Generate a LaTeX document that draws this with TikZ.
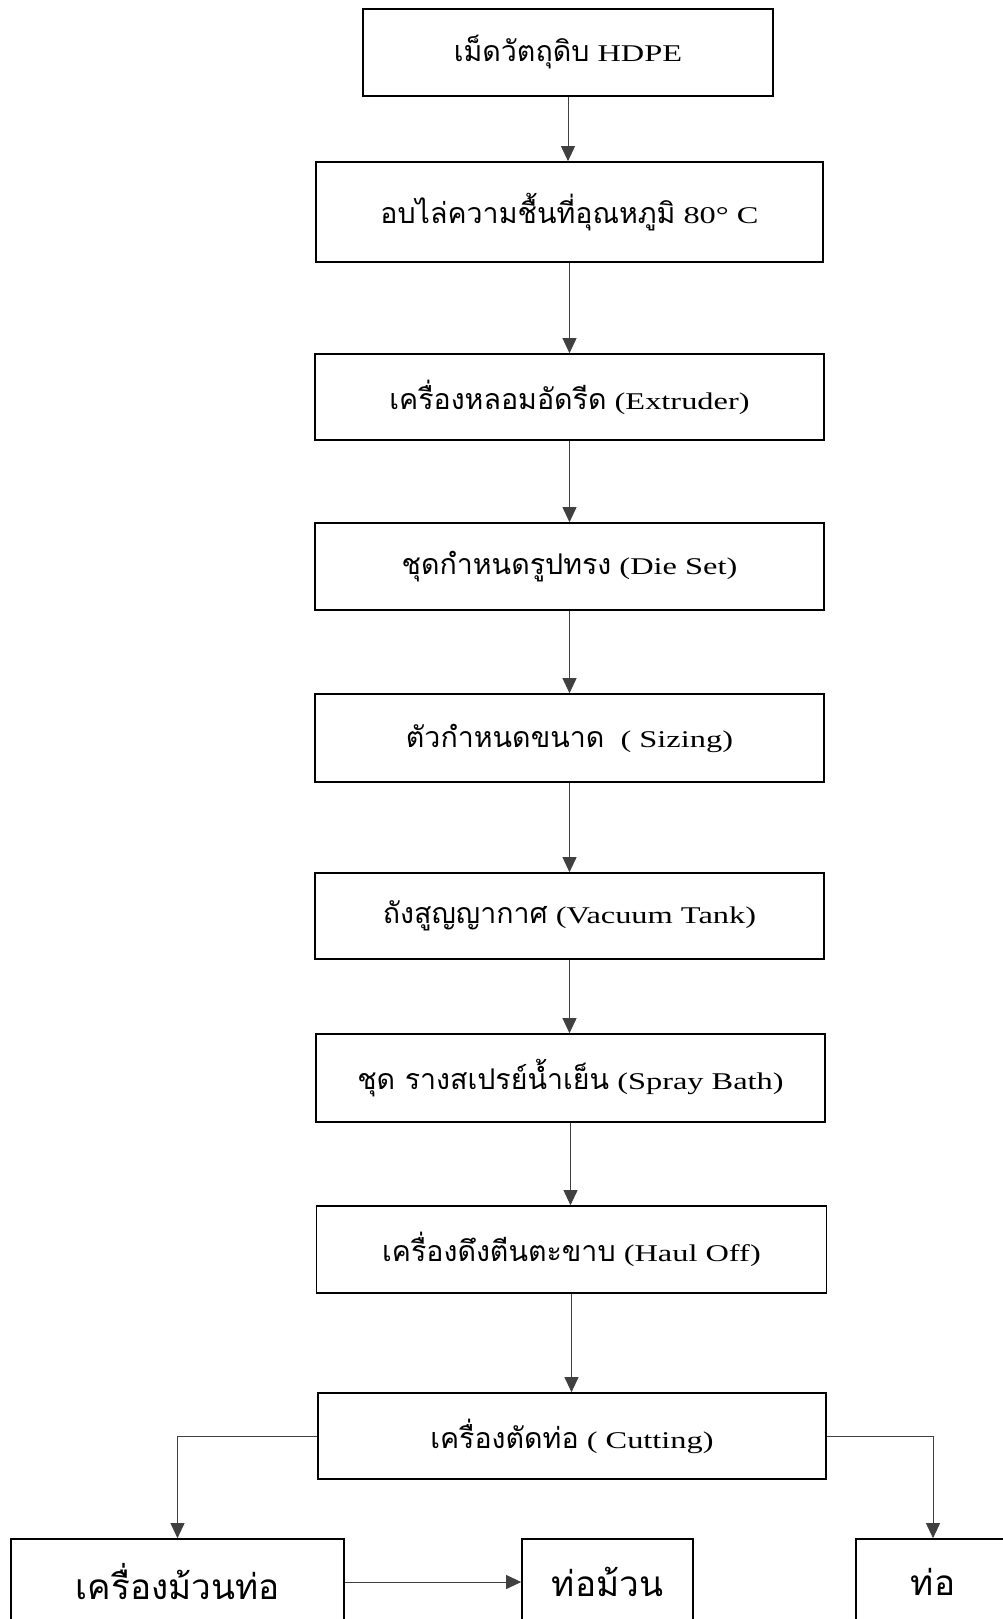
\documentclass[tikz,border=0pt]{standalone}
\usepackage{fontspec}
\setmainfont{Liberation Serif}[FakeStretch=1.35]
\newfontfamily\thai[Script=Thai,Scale=1.19]{Loma}
\usetikzlibrary{arrows.meta}
\begin{document}
\begin{tikzpicture}[x=1pt,y=-1pt,
  box/.style={draw=black,line width=1.7pt,inner sep=0pt,align=center,
    font=\fontsize{24}{28}\selectfont},
  bigbox/.style={box,font=\fontsize{29.5}{34}\selectfont},
  arr/.style={draw=black!75,line width=0.9pt,-{Triangle[length=15pt,width=14pt]}}]
\useasboundingbox (0,0) rectangle (1002,1619);
\fill[white] (0,0) rectangle (1002,1619);
\node[box,minimum width=410pt,minimum height=87pt] (b1) at (568,52.5) {{\thai เม็ดวัตถุดิบ} HDPE};
\node[box,minimum width=507pt,minimum height=100pt] (b2) at (569.5,212) {{\thai อบไล่ความชื้นที่อุณหภูมิ} 80° C};
\node[box,minimum width=509pt,minimum height=86pt] (b3) at (569.5,397) {{\thai เครื่องหลอมอัดรีด} (Extruder)};
\node[box,minimum width=509pt,minimum height=87pt] (b4) at (569.5,566.5) {{\thai ชุดกำหนดรูปทรง} (Die Set)};
\node[box,minimum width=509pt,minimum height=88pt] (b5) at (569.5,738) {{\thai ตัวกำหนดขนาด}\ \ ( Sizing)};
\node[box,minimum width=509pt,minimum height=86pt] (b6) at (569.5,916) {{\thai ถังสูญญากาศ} (Vacuum Tank)};
\node[box,minimum width=509pt,minimum height=88pt] (b7) at (570.5,1078) {{\thai ชุด รางสเปรย์น้ำเย็น} (Spray Bath)};
\node[box,minimum width=510pt,minimum height=87pt] (b8) at (571.5,1249.5) {{\thai เครื่องดึงตีนตะขาบ} (Haul Off)};
\node[box,minimum width=508pt,minimum height=86pt] (b9) at (572,1436) {{\thai เครื่องตัดท่อ} ( Cutting)};
\node[bigbox,minimum width=333pt,minimum height=86pt] (b10) at (177.5,1582) {\thai เครื่องม้วนท่อ};
\node[bigbox,minimum width=171pt,minimum height=86pt] (b11) at (607.5,1582) {\thai ท่อม้วน};
\node[bigbox,minimum width=154pt,minimum height=86pt] (b12) at (933,1582) {\thai ท่อ};
\draw[arr] (b1.south) -- (b1.south |- b2.north);
\draw[arr] (b2.south) -- (b2.south |- b3.north);
\draw[arr] (b3.south) -- (b3.south |- b4.north);
\draw[arr] (b4.south) -- (b4.south |- b5.north);
\draw[arr] (b5.south) -- (b5.south |- b6.north);
\draw[arr] (b6.south) -- (b6.south |- b7.north);
\draw[arr] (b7.south) -- (b7.south |- b8.north);
\draw[arr] (b8.south) -- (b8.south |- b9.north);
\draw[arr] (b9.west) -| (b10.north);
\draw[arr] (b9.east) -| (b12.north);
\draw[arr] (b10.east) -- (b11.west);
\end{tikzpicture}
\end{document}
